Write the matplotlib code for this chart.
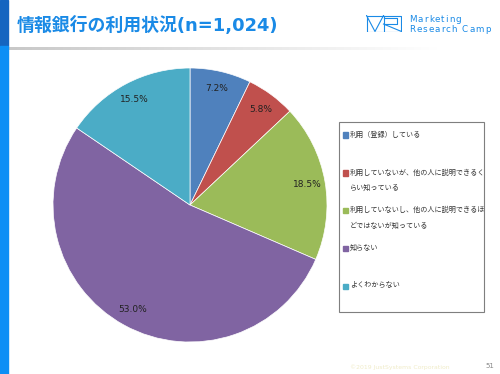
import matplotlib
matplotlib.use("Agg")
import matplotlib.pyplot as plt
from matplotlib.patches import Rectangle
from matplotlib.font_manager import FontProperties
import numpy as np

plt.rcParams['font.family'] = ['Noto Sans CJK JP', 'DejaVu Sans']

categories = ["利用（登録）している",
              "利用していないが、他の人に説明できるく\nらい知っている",
              "利用していないし、他の人に説明できるほ\nどではないが知っている",
              "知らない",
              "よくわからない"]
values = [7.2, 5.8, 18.5, 53.0, 15.5]
colors = ["#4f81bd", "#c0504d", "#9bbb59", "#8064a2", "#4bacc6"]
title = "情報銀行の利用状況(n=1,024)"
logo_lines = ["Marketing", "Research Camp"]

W, H = 500, 374
fig = plt.figure(figsize=(5, 3.74), dpi=100)
fig.patch.set_facecolor("white")

def fx(x): return x / W
def fy(y): return 1 - y / H

# left bars
fig.patches.append(Rectangle((0, fy(46)), fx(8), 46 / H, transform=fig.transFigure,
                             color="#1565c0", zorder=1))
fig.patches.append(Rectangle((0, 0), fx(8), fy(46), transform=fig.transFigure,
                             color="#0d8ff5", zorder=1))
# header shadow gradient
grad = np.linspace(0, 1, 256).reshape(1, -1)
ax_g = fig.add_axes([fx(8), fy(50), fx(430), 3 / H])
ax_g.imshow(np.vstack([grad, grad]), aspect="auto",
            cmap=matplotlib.colors.LinearSegmentedColormap.from_list("g", ["#c8c8c8", "#ffffff"]))
ax_g.axis("off")

fig.text(fx(17), fy(25), title, fontsize=12.9, fontweight="bold", color="#1a8ae6",
         va="center", ha="left", family=["DejaVu Sans", "Noto Sans CJK JP"])

# logo
lc = "#1a8ae6"
logo = fig.add_axes([fx(366), fy(32), fx(36), 17 / H])
logo.set_xlim(0, 36); logo.set_ylim(17, 0); logo.axis("off")
logo.plot([0.5, 35.5, 35.5, 0.5, 0.5], [0.5, 0.5, 16.5, 16.5, 0.5], color=lc, lw=0.8)
logo.plot([0.5, 9, 17.5], [0.5, 16.5, 0.5], color=lc, lw=0.8)
logo.plot([17.5, 17.5], [0.5, 16.5], color=lc, lw=0.8)
logo.plot([17.5, 31, 31, 17.5], [3, 3, 9, 9], color=lc, lw=0.8)
logo.plot([17.5, 35.5], [9, 16.5], color=lc, lw=0.8)

renderer = fig.canvas.get_renderer()
fp = FontProperties(family="DejaVu Sans", size=6.3)
tracking = 1.1
for line, yv in zip(logo_lines, [20, 29.5]):
    for i, ch in enumerate(line):
        if ch == " ":
            continue
        w, _, _ = renderer.get_text_width_height_descent(line[:i] + "|", fp, ismath=False)
        wbar, _, _ = renderer.get_text_width_height_descent("|", fp, ismath=False)
        xpx = 409 + (w - wbar) + i * tracking
        fig.text(fx(xpx), fy(yv), ch, fontproperties=fp, color=lc, va="center", ha="left")

# pie
cx, cy, r = 190, 205, 137
ax = fig.add_axes([fx(cx - r), fy(cy + r), 2 * r / W, 2 * r / H])
wedges, texts = ax.pie(values, colors=colors, startangle=90, counterclock=False,
                       labels=[f"{v:.1f}%" for v in values], labeldistance=0.87,
                       wedgeprops=dict(edgecolor="white", linewidth=0.5),
                       textprops=dict(fontsize=6.5, color="#222222", family="DejaVu Sans"))
for t in texts:
    t.set_ha("center"); t.set_va("center")
ax.set_aspect("auto")
ax.set_xlim(-1, 1); ax.set_ylim(-1, 1)

# legend
fig.patches.append(Rectangle((fx(339), fy(312)), fx(484 - 339), (312 - 122) / H,
                             transform=fig.transFigure, fill=False, edgecolor="#7f7f7f",
                             linewidth=0.8))
ys = [135, 173, 210, 248, 286]
for yv, c, lab in zip(ys, colors, categories):
    fig.patches.append(Rectangle((fx(343), fy(yv + 2.5)), fx(5), 5 / H,
                                 transform=fig.transFigure, color=c))
    fig.text(fx(350), fy(yv - 4.5), lab, fontsize=5.1, color="#333333", va="top",
             ha="left", linespacing=2.35)

# footer
fig.text(fx(400), fy(367), "©2019 JustSystems Corporation", fontsize=4.4, color="#f0ecc8",
         ha="center", va="center", family="DejaVu Sans")
fig.text(fx(490), fy(366), "51", fontsize=5, color="#888888", ha="center", va="center",
         family="DejaVu Sans")

fig.savefig("out.png", dpi=100, facecolor="white")
